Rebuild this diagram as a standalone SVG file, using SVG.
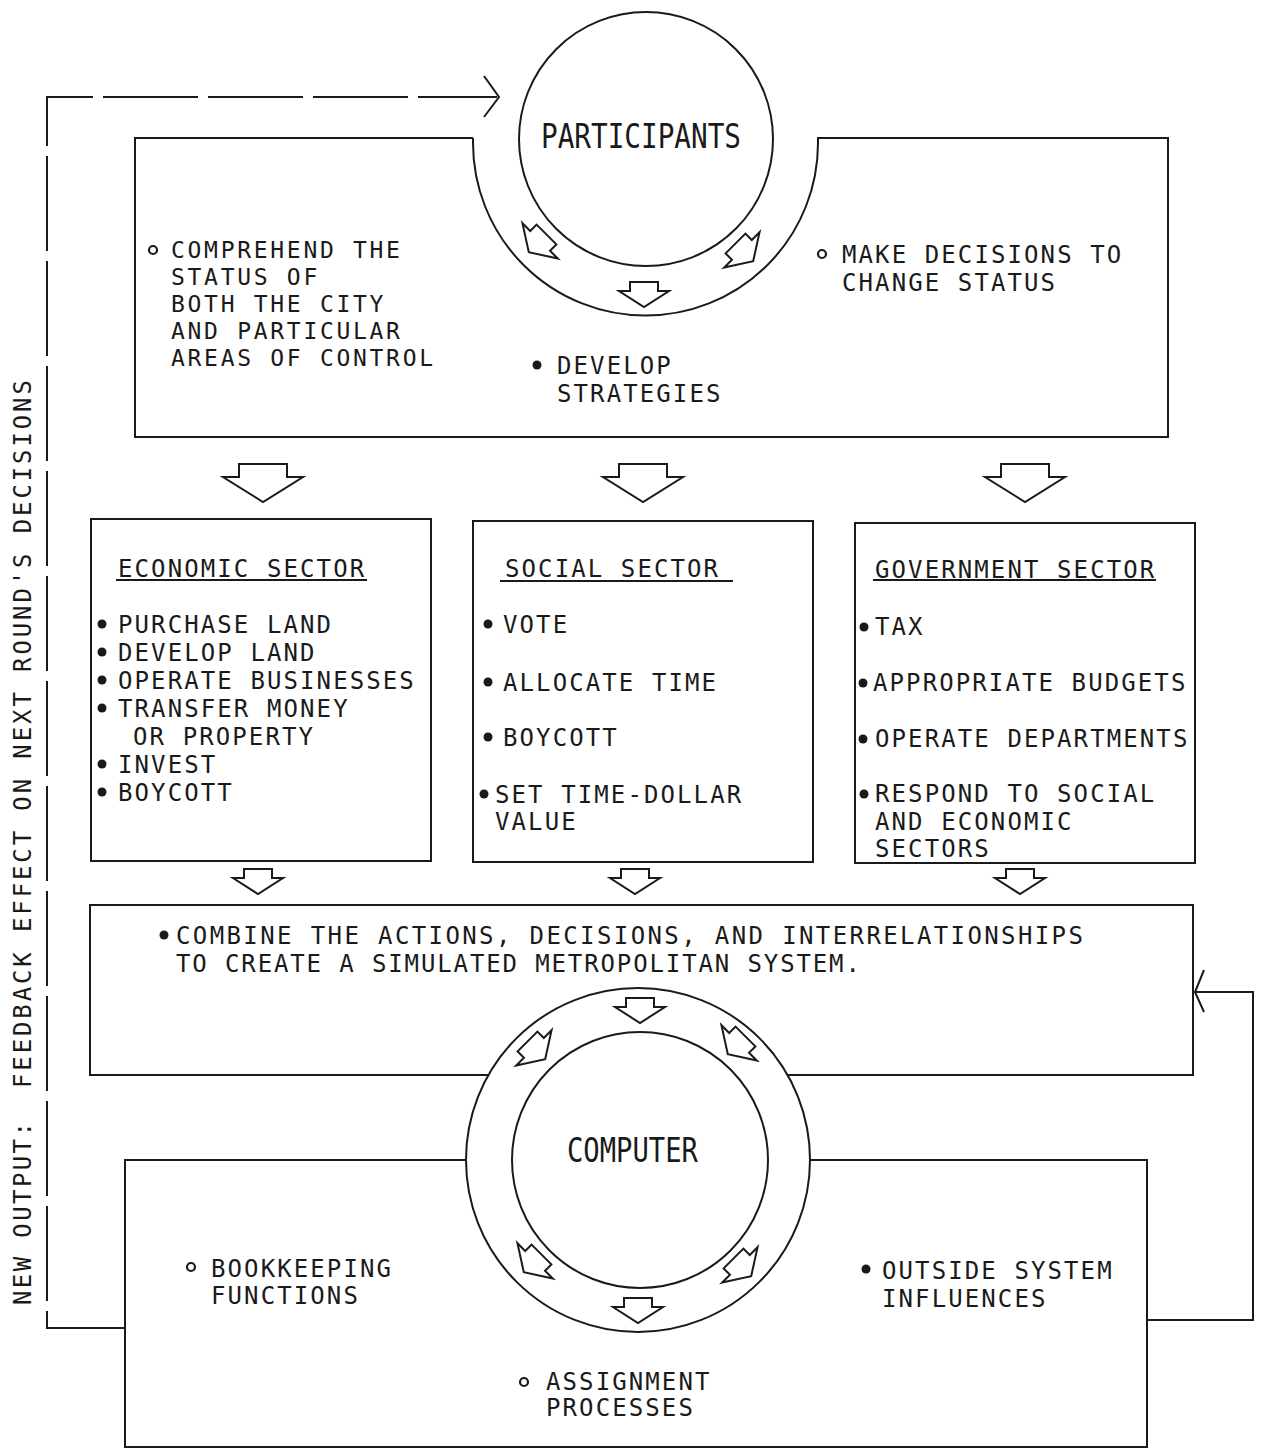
<svg xmlns="http://www.w3.org/2000/svg" width="1263" height="1453" viewBox="0 0 1263 1453">
<style>
.ln{fill:none;stroke:#1a1a1a;stroke-width:2}
.fb{fill:none;stroke:#1a1a1a;stroke-width:2;stroke-dasharray:95 10}
.t{font-family:"DejaVu Sans Mono","Liberation Mono",monospace;font-size:24px;fill:#1a1a1a;letter-spacing:2.1px}
.ts{font-family:"DejaVu Sans Mono","Liberation Mono",monospace;font-size:23px;fill:#1a1a1a;letter-spacing:2.7px}
.big{font-family:"DejaVu Sans Mono","Liberation Mono",monospace;font-size:34px;fill:#1a1a1a}
.ar{fill:#fff;stroke:#1a1a1a;stroke-width:2;stroke-linejoin:miter}
.b{fill:#1a1a1a}
.h{fill:#fff;stroke:#1a1a1a;stroke-width:2.2}
</style>
<defs>
<path id="bigA" d="M-24,-19 H24 V-6 H40 L0,19 L-40,-6 H-24 Z"/>
<path id="smA" d="M-14,-12 H14 V-3 H25 L0,13 L-25,-3 H-14 Z"/>
</defs>
<rect width="1263" height="1453" fill="#fff"/>

<g id="connectors">
<path class="fb" d="M125,1328 H47 V97 H497"/>
<path class="ln" d="M484,76 L499,97 L484,117"/>
<path class="ln" d="M1147,1320 H1253 V992 H1195"/>
<path class="ln" d="M1204,970 L1195,992 L1204,1012"/>
<use href="#bigA" class="ar" transform="translate(263,483)"/>
<use href="#bigA" class="ar" transform="translate(643,483)"/>
<use href="#bigA" class="ar" transform="translate(1025,483)"/>
<use href="#smA" class="ar" transform="translate(258,881)"/>
<use href="#smA" class="ar" transform="translate(635,881)"/>
<use href="#smA" class="ar" transform="translate(1020,881)"/>
<text class="t" transform="translate(31,1305) rotate(-90)" textLength="185">NEW OUTPUT:</text>
<text class="t" transform="translate(31,1088) rotate(-90)" textLength="710">FEEDBACK EFFECT ON NEXT ROUND'S DECISIONS</text>
</g>

<g id="participants-box">
<path class="ln" d="M473,138 H135 V437 H1168 V138 H818 V143 A172.5,172.5 0 0 1 473,143 V138"/>
<circle class="h" cx="153" cy="250" r="4"/>
<text class="ts" x="171" y="258">COMPREHEND THE</text>
<text class="ts" x="171" y="285">STATUS OF</text>
<text class="ts" x="171" y="312">BOTH THE CITY</text>
<text class="ts" x="171" y="339">AND PARTICULAR</text>
<text class="ts" x="171" y="366">AREAS OF CONTROL</text>
<circle class="b" cx="537" cy="365" r="4.5"/>
<text class="t" x="557" y="374">DEVELOP</text>
<text class="t" x="557" y="402">STRATEGIES</text>
<circle class="h" cx="822" cy="254" r="4"/>
<text class="t" x="842" y="263">MAKE DECISIONS TO</text>
<text class="t" x="842" y="291">CHANGE STATUS</text>
</g>

<g id="participants">
<circle class="ln" cx="646" cy="139" r="127"/>
<text class="big" x="541" y="148" textLength="200" lengthAdjust="spacingAndGlyphs">PARTICIPANTS</text>
<use href="#smA" class="ar" transform="translate(538,243) rotate(45)"/>
<use href="#smA" class="ar" transform="translate(644,294)"/>
<use href="#smA" class="ar" transform="translate(744,252) rotate(-45)"/>
</g>

<g id="economic-sector">
<rect class="ln" x="91" y="519" width="340" height="342"/>
<text class="t" x="118" y="577">ECONOMIC SECTOR</text>
<line class="ln" x1="116" y1="580" x2="367" y2="580"/>
<circle class="b" cx="102" cy="624" r="4.5"/>
<text class="t" x="118" y="633">PURCHASE LAND</text>
<circle class="b" cx="102" cy="652" r="4.5"/>
<text class="t" x="118" y="661">DEVELOP LAND</text>
<circle class="b" cx="102" cy="680" r="4.5"/>
<text class="t" x="118" y="689">OPERATE BUSINESSES</text>
<circle class="b" cx="102" cy="708" r="4.5"/>
<text class="t" x="118" y="717">TRANSFER MONEY</text>
<text class="t" x="133" y="745">OR PROPERTY</text>
<circle class="b" cx="102" cy="764" r="4.5"/>
<text class="t" x="118" y="773">INVEST</text>
<circle class="b" cx="102" cy="792" r="4.5"/>
<text class="t" x="118" y="801">BOYCOTT</text>
</g>

<g id="social-sector">
<rect class="ln" x="473" y="521" width="340" height="341"/>
<text class="t" x="505" y="577">SOCIAL SECTOR</text>
<line class="ln" x1="500" y1="581" x2="733" y2="581"/>
<circle class="b" cx="488" cy="624" r="4.5"/>
<text class="t" x="503" y="633">VOTE</text>
<circle class="b" cx="488" cy="682" r="4.5"/>
<text class="t" x="503" y="691">ALLOCATE TIME</text>
<circle class="b" cx="488" cy="737" r="4.5"/>
<text class="t" x="503" y="746">BOYCOTT</text>
<circle class="b" cx="484" cy="794" r="4.5"/>
<text class="t" x="495" y="803">SET TIME-DOLLAR</text>
<text class="t" x="495" y="830">VALUE</text>
</g>

<g id="government-sector">
<rect class="ln" x="855" y="523" width="340" height="340"/>
<text class="t" x="875" y="578">GOVERNMENT SECTOR</text>
<line class="ln" x1="873" y1="580" x2="1156" y2="580"/>
<circle class="b" cx="864" cy="627" r="4.5"/>
<text class="t" x="875" y="635">TAX</text>
<circle class="b" cx="863" cy="683" r="4.5"/>
<text class="t" x="873" y="691">APPROPRIATE BUDGETS</text>
<circle class="b" cx="863" cy="739" r="4.5"/>
<text class="t" x="875" y="747">OPERATE DEPARTMENTS</text>
<circle class="b" cx="864" cy="794" r="4.5"/>
<text class="t" x="875" y="802">RESPOND TO SOCIAL</text>
<text class="t" x="875" y="830">AND ECONOMIC</text>
<text class="t" x="875" y="857">SECTORS</text>
</g>

<g id="combine-box">
<path class="ln" d="M489,1075 H90 V905 H1193 V1075 H787"/>
<circle class="b" cx="164" cy="935" r="4.5"/>
<text class="t" x="176" y="944" textLength="909">COMBINE THE ACTIONS, DECISIONS, AND INTERRELATIONSHIPS</text>
<text class="t" x="176" y="972" textLength="686">TO CREATE A SIMULATED METROPOLITAN SYSTEM.</text>
</g>

<g id="computer">
<circle class="ln" cx="638" cy="1160" r="172"/>
<circle class="ln" cx="640" cy="1160" r="128"/>
<text class="big" x="567" y="1162" textLength="131" lengthAdjust="spacingAndGlyphs">COMPUTER</text>
<use href="#smA" class="ar" transform="translate(640,1010)"/>
<use href="#smA" class="ar" transform="translate(536,1050) rotate(-45)"/>
<use href="#smA" class="ar" transform="translate(737,1045) rotate(45)"/>
<use href="#smA" class="ar" transform="translate(533,1263) rotate(45)"/>
<use href="#smA" class="ar" transform="translate(638,1310)"/>
<use href="#smA" class="ar" transform="translate(742,1267) rotate(-45)"/>
</g>

<g id="computer-box">
<path class="ln" d="M466,1160 H125 V1447 H1147 V1160 H810"/>
<circle class="h" cx="191" cy="1267" r="4"/>
<text class="t" x="211" y="1277">BOOKKEEPING</text>
<text class="t" x="211" y="1304">FUNCTIONS</text>
<circle class="b" cx="866" cy="1269" r="4.5"/>
<text class="t" x="882" y="1279">OUTSIDE SYSTEM</text>
<text class="t" x="882" y="1307">INFLUENCES</text>
<circle class="h" cx="524" cy="1382" r="4"/>
<text class="t" x="546" y="1390">ASSIGNMENT</text>
<text class="t" x="546" y="1416">PROCESSES</text>
</g>
</svg>
